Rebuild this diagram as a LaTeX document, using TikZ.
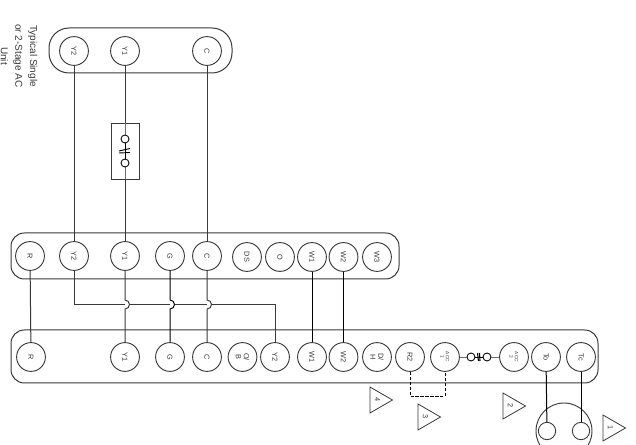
\documentclass[tikz,border=0pt]{standalone}
\usepackage{fontspec}
\setmainfont{Liberation Sans}
\usetikzlibrary{shapes.geometric}
\definecolor{ln}{HTML}{3A3A3A}
\definecolor{bl}{HTML}{4472C4}
\tikzset{x=0.75pt,y=-0.75pt,
 panel/.style={draw=ln,line width=0.75pt,rounded corners=10pt},
 term/.style={circle,draw=ln,line width=0.7pt,fill=white,minimum size=21.6pt,inner sep=0pt,font=\fontsize{5.5}{6}\selectfont,rotate=-90,align=center,text=ln},
 smallterm/.style={term,font=\fontsize{3.6}{4}\selectfont},
 wire/.style={draw=ln,line width=0.75pt},
 dwire/.style={draw=black,line width=0.75pt},
 bwire/.style={draw=bl,line width=0.7pt},
 note/.style={regular polygon,regular polygon sides=3,shape border rotate=-90,draw=ln,line width=0.6pt,inner sep=0pt,minimum size=22.5pt,font=\fontsize{5.5}{6}\selectfont,text=ln},
 sw/.style={circle,draw=black,line width=0.65pt,fill=white,minimum size=6pt,inner sep=0pt},
 coil/.style={circle,draw=ln,line width=0.65pt,fill=white,minimum size=13pt,inner sep=0pt},
 lab/.style={rotate=-90,font=\fontsize{7.5}{11}\selectfont,align=center,text=ln}}
\begin{document}
\begin{tikzpicture}
\useasboundingbox (0,0) rectangle (636,445);
\fill[white] (0,0) rectangle (636,445);
\draw[panel,rounded corners=15pt] (49,28) rectangle (232,73);
\draw[panel] (11,233) rectangle (399,279);
\draw[panel] (11,330) rectangle (598,383);
\node[term] (aY2) at (74,51) {Y2};
\node[term] (aY1) at (125,51) {Y1};
\node[term] (aC) at (207,51) {C};
\node[term] (bR) at (30,256) {R};
\node[term] (bY2) at (74,256) {Y2};
\node[term] (bY1) at (125,256) {Y1};
\node[term] (bG) at (170,256) {G};
\node[term] (bC) at (207,256) {C};
\node[term] (bDS) at (247,257) {DS};
\node[term] (bO) at (280,257) {O};
\node[term] (bW1) at (312,257) {W1};
\node[term] (bW2) at (343.5,257) {W2};
\node[term] (bW3) at (377,257) {W3};
\node[term] (cR) at (31,357) {R};
\node[term] (cY1) at (125,357) {Y1};
\node[term] (cG) at (170,357) {G};
\node[term] (cC) at (207,357) {C};
\node[term] (cOB) at (242.5,357) {O/\\B};
\node[term] (cY2) at (275,357) {Y2};
\node[term] (cW1) at (312,357) {W1};
\node[term] (cW2) at (343.5,357) {W2};
\node[term] (cDH) at (377,357) {D/\\H};
\node[term] (cR2) at (410,357) {R2};
\node[smallterm] (cA1) at (445,357) {ACC\\1};
\node[smallterm] (cA2) at (514,357) {ACC\\2};
\node[term] (cTo) at (546,357) {To};
\node[term] (cTc) at (581,357) {Tc};
\draw[wire] (aY2) -- (bY2);
\draw[wire] (aC) -- (bC);
\node[draw=ln,line width=0.7pt,minimum width=21pt,minimum height=42pt,inner sep=0pt] (box) at (125,151) {};
\draw[wire] (aY1) -- (box.north);
\draw[wire] (box.south) -- (bY1);
\draw[bwire] (box.north) -- (box.south);
\node[sw] (s1) at (125,139) {};
\node[sw] (s2) at (125,163) {};
\draw[black,line width=0.7pt] (s1) -- (s2);
\draw[black,line width=0.7pt] (119,151) -- (130,148.5) (119,153) -- (130,152.5);
\draw[wire] (bR) -- (cR);
\draw[dwire] (bW1) -- (cW1);
\draw[dwire] (bW2) -- (cW2);
\draw[wire] (bY1) -- (125,300) arc (-90:90:4.5) -- (cY1);
\draw[dwire] (bG) -- (170,300) arc (-90:90:4.5) -- (cG);
\draw[wire] (bC) -- (207,300) arc (-90:90:4.5) -- (cC);
\draw[wire] (bY2) |- (125,305) (129.5,305) -- (170,305) (174.5,305) -- (207,305) (211.5,305) -| (cY2);
\draw[dwire,line width=0.65pt,dash pattern=on 2.5pt off 1.2pt] (cR2) |- (445,396) -- (cA1);
\node[sw] (s3) at (471,357) {};
\node[sw] (s4) at (487,357) {};
\draw[bwire] (cA1) -- (s3);
\draw[bwire] (s4) -- (cA2);
\draw[black,line width=0.7pt] (s3) -- (s4);
\draw[black,line width=0.8pt] (477.5,353) -- (478.5,361) (479.5,353) -- (480,361);
\node[circle,draw=ln,line width=0.7pt,minimum size=42pt,inner sep=0pt] (sens) at (564,431) {};
\node[coil] (so) at (547,431) {};
\node[coil] (sc) at (581,431) {};
\draw[dwire] (cTo) -- (so);
\draw[dwire] (cTc) -- (sc);
\node[note] (n1) at (610.5,428) {\rotatebox{-90}{1}};
\node[note] (n2) at (510.5,406) {\rotatebox{-90}{2}};
\node[note] (n3) at (425.5,417) {\rotatebox{-90}{3}};
\node[note] (n4) at (377.5,400) {\rotatebox{-90}{4}};
\node[lab] (title) at (19,56) {Typical Single\\or 2-Stage AC\\Unit};
\end{tikzpicture}
\end{document}
